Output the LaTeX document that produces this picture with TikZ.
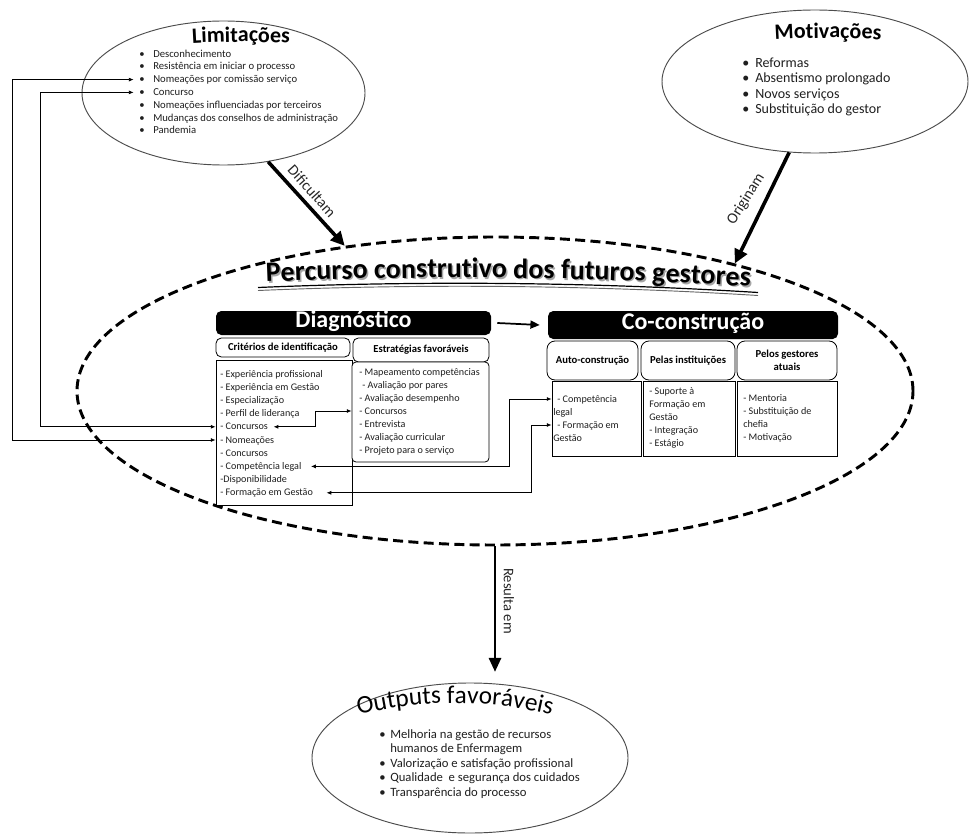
\documentclass[tikz,border=0pt]{standalone}
\usepackage{fontspec}
\setmainfont{Carlito}
\usetikzlibrary{arrows.meta,shapes.geometric,decorations.text}
\newdimen\pxu \pxu=0.75pt
\newcommand\dotitem[2]{\makebox[#1][l]{\textbullet}#2}

\begin{document}
\begin{tikzpicture}[x=0.75pt, y=-0.75pt,
  ell/.style={ellipse, draw=black!70, line width=0.7pt, inner sep=0pt},
  bar/.style={fill=black, rounded corners=4pt, text=white, inner sep=0pt,
    text height=0.7em, text depth=0.06em, font=\bfseries\fontsize{18}{18}\selectfont},
  tab/.style={draw=black, line width=0.6pt, fill=white, rounded corners=4pt, inner sep=0pt,
    align=center, font=\bfseries\fontsize{8}{9.75}\selectfont},
  panel/.style={draw=black, line width=0.6pt, fill=white, inner sep=0pt},
  li/.style={anchor=west, inner sep=0pt, text height=0.7em, text depth=0.23em,
    text=black!88, font=\fontsize{7.6}{9}\selectfont},
  link/.style={line width=0.6pt, {Latex[length=3.6pt,width=3pt]}-{Latex[length=3.6pt,width=3pt]}},
  push/.style={line width=2.7pt, -{Triangle[length=10.5pt,width=10pt]}},
  lbl/.style={inner sep=0pt, text=black!85},
]
\useasboundingbox (0,0) rectangle (970,834);
\fill[white] (0,0) rectangle (970,834);

% ---------- process ellipse ----------
\node[ellipse, draw=black, line width=2.2pt, dash pattern=on 7.5pt off 4pt,
      minimum width=836\pxu, minimum height=308\pxu, inner sep=0pt] (big) at (495,391) {};

% ---------- surrounding ellipses ----------
\node[ell, minimum width=283\pxu, minimum height=144\pxu] (lim) at (223.5,93) {};
\node[ell, minimum width=306\pxu, minimum height=143\pxu] (mot) at (815,81.5) {};
\node[ell, minimum width=316\pxu, minimum height=150\pxu] (out) at (470,758) {};

% arched titles
\path[decorate, decoration={text along path, text align=center,
  text={|\bfseries\fontsize{16.5}{16.5}\selectfont|Limitações}}]
  (171,44.9) .. controls (217.7,41) and (264.3,41) .. (311,44.9);
\path[decorate, decoration={text along path, text align=center,
  text={|\bfseries\fontsize{16.5}{16.5}\selectfont|Motivações}}]
  (758,40.9) .. controls (804.7,37) and (851.3,37) .. (898,40.9);
\path[decorate, decoration={text along path, text align=center,
  text={|\fontsize{19}{19}\selectfont|Outputs favoráveis}}]
  (325,724.3) .. controls (411.7,696.2) and (498.3,696.2) .. (585,724.3);

% main title with shadow and double underline
\path[decorate, decoration={text along path, text align=center,
  text={|\bfseries\fontsize{21}{21}\selectfont\color{black!35}|Percurso construtivo dos futuros gestores}}]
  (209.5,285.9) .. controls (409.5,275.4) and (609.5,277.4) .. (809.5,291.9);
\path[decorate, decoration={text along path, text align=center,
  text={|\bfseries\fontsize{21}{21}\selectfont|Percurso construtivo dos futuros gestores}}]
  (208,284.4) .. controls (408,273.9) and (608,275.9) .. (808,290.4);
\draw[line width=0.9pt] (258,287.5) .. controls (424.7,280.5) and (591.3,282.2) .. (758,292.5);
\draw[line width=0.7pt, black!60] (258,290.5) .. controls (424.7,283.5) and (591.3,285.2) .. (758,295.5);

% ---------- items of the ellipses ----------
\foreach \t [count=\i] in {Desconhecimento, Resistência em iniciar o processo,
    Nomeações por comissão serviço, Concurso, Nomeações influenciadas por terceiros,
    Mudanças dos conselhos de administração, Pandemia}
  \node[li, font=\fontsize{8}{9}\selectfont] (lim\i) at (139,{54+12.8*(\i-1)}) {\dotitem{10.5pt}{\t}};

\foreach \t [count=\i] in {Reformas, Absentismo prolongado, Novos serviços, Substituição do gestor}
  \node[li, font=\fontsize{10.5}{12}\selectfont] (mot\i) at (742,{64+15.5*(\i-1)}) {\dotitem{9.75pt}{\t}};

\foreach \b/\t [count=\i] in {1/Melhoria na gestão de recursos, 0/humanos de Enfermagem,
    1/Valorização e satisfação profissional, 1/Qualidade\ \ e segurança dos cuidados,
    1/Transparência do processo}
  \node[li, font=\fontsize{9.5}{11}\selectfont] (out\i) at (379,{735+14.5*(\i-1)})
    {\ifnum\b=1 \dotitem{8.25pt}{\t}\else\hspace*{8.25pt}\t\fi};

% ---------- Diagnóstico ----------
\node[bar, minimum width=275\pxu, minimum height=24\pxu] (diag) at (353.5,323) {Diagnóstico};
\node[tab, minimum width=134\pxu, minimum height=19\pxu] (critH) at (283,347.5) {Critérios de identificação};
\node[tab, minimum width=136\pxu, minimum height=24\pxu] (estrH) at (421,350) {Estratégias favoráveis};
\node[panel, minimum width=136\pxu, minimum height=145\pxu] (critL) at (284,432.5) {};
\node[panel, rounded corners=3pt, minimum width=137\pxu, minimum height=100\pxu] (estrL) at (420.5,412) {};

\foreach \t [count=\i] in {- Experiência profissional, - Experiência em Gestão, - Especialização,
    - Perfil de liderança, - Concursos, - Nomeações, - Concursos, - Competência legal,
    -Disponibilidade, - Formação em Gestão}
  \node[li] (crit\i) at (220,{374+13.2*(\i-1)}) {\t};

\foreach \dx/\t [count=\i] in {0/- Mapeamento competências, 3/- Avaliação por pares,
    0/- Avaliação desempenho, 0/- Concursos, 0/- Entrevista, 0/- Avaliação curricular,
    0/- Projeto para o serviço}
  \node[li] (estr\i) at ({359+\dx},{372+13*(\i-1)}) {\t};

% ---------- Co-construção ----------
\node[bar, minimum width=290\pxu, minimum height=28\pxu] (cocon) at (693,325) {Co-construção};
\node[tab, rounded corners=6pt, minimum width=91\pxu, minimum height=39\pxu] (autoH) at (592.5,360.5) {Auto-construção};
\node[tab, rounded corners=6pt, minimum width=94\pxu, minimum height=39\pxu] (instH) at (688,360.5) {Pelas instituições};
\node[tab, rounded corners=6pt, minimum width=100\pxu, minimum height=39\pxu] (gestH) at (787,360.5) {Pelos gestores\\atuais};
\node[panel, minimum width=89\pxu, minimum height=75\pxu] (autoL) at (596.5,418.5) {};
\node[panel, minimum width=92\pxu, minimum height=75\pxu] (instL) at (689,418.5) {};
\node[panel, minimum width=100\pxu, minimum height=75\pxu] (gestL) at (787,418.5) {};

\foreach \dx/\t [count=\i] in {4/- Competência, 0/legal, 4/- Formação em, 0/Gestão}
  \node[li] (auto\i) at ({553+\dx},{399+13*(\i-1)}) {\t};
\foreach \t [count=\i] in {- Suporte à, Formação em, Gestão, - Integração, - Estágio}
  \node[li] (inst\i) at (649,{391+13.2*(\i-1)}) {\t};
\foreach \t [count=\i] in {- Mentoria, - Substituição de, chefia, - Motivação}
  \node[li] (gest\i) at (743,{398+13*(\i-1)}) {\t};

% ---------- main arrows ----------
\draw[line width=1.3pt, -{Triangle[length=7pt,width=6pt]}]
  ([xshift=4.5pt]diag.east) -- ([xshift=-6pt]cocon.west);
\draw[push] (lim.303) -- (big.136.4);
\draw[push] (mot.250) -- (big.28);
\draw[line width=2.1pt, -{Triangle[length=10.5pt,width=9pt]}, shorten >=8pt]
  (big.south) -- (big.south |- out.north);

\node[lbl, rotate=-48, font=\fontsize{11.5}{12}\selectfont] (difl) at (312,191) {Dificultam};
\node[lbl, rotate=58, font=\fontsize{11.5}{12}\selectfont] (orgl) at (746,199) {Originam};
\node[lbl, rotate=-90, font=\fontsize{11}{12}\selectfont] (resl) at (509,601) {Resulta em};

% ---------- cross links ----------
\coordinate (railA) at (40,0);
\coordinate (railB) at (12,0);
\coordinate (railC) at (315,0);
\coordinate (railD) at (509,0);
\coordinate (railE) at (531,0);

\draw[link] (critL.west |- crit5) -- (railA |- crit5) -- (railA |- lim4) -- ([xshift=-4pt]lim4.west);
\draw[link] (critL.west |- crit6) -- (railB |- crit6) -- (railB |- lim3) -- ([xshift=-4pt]lim3.west);
\draw[link] ([xshift=4pt]crit5.east) -- (railC |- crit5) -- (railC |- estr4) -- (estrL.west |- estr4);
\draw[link] ([xshift=7pt]crit8.east) -- (railD |- crit8) -- (railD |- auto1) -- (autoL.west |- auto1);
\draw[link] ([xshift=10pt]crit10.east) -- (railE |- crit10) -- (railE |- auto3) -- (autoL.west |- auto3);
\end{tikzpicture}
\end{document}
